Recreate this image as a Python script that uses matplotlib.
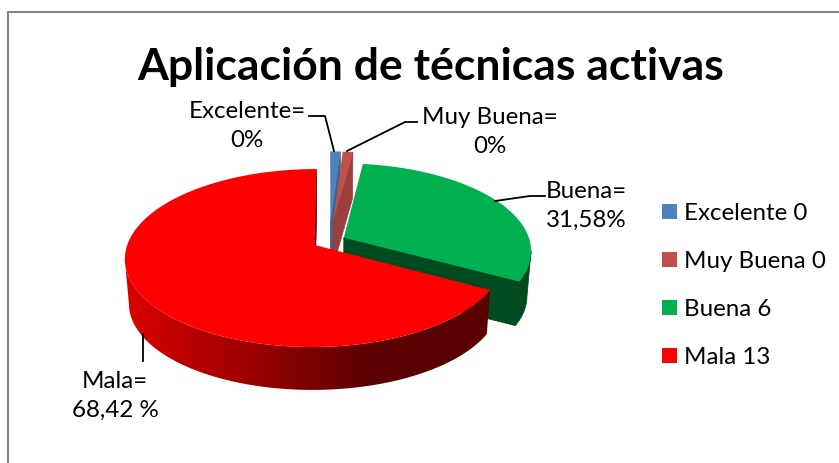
import numpy as np
import matplotlib
matplotlib.use('Agg')
import matplotlib.pyplot as plt
from matplotlib.patches import Polygon

plt.rcParams['font.family'] = ['Lato', 'DejaVu Sans']

title = 'Aplicación de técnicas activas'
categories = ['Excelente', 'Muy Buena', 'Buena', 'Mala']
counts = [0, 0, 6, 13]
# the two empty classes still show up as thin slices in the picture
drawn_values = [0.2, 0.2, 6, 13]
data_labels = ['Excelente=\n0%', 'Muy Buena=\n0%', 'Buena=\n31,58%', 'Mala=\n68,42 %']

top_colors = ['#4f81bd', '#c0504d', '#00b050', '#ff0000']
face_colors = ['#3c6492', '#9c3f3c', '#004a20', '#5c0000']
explode = [0.23, 0.23, 0.09, 0.09]

# fake 3D: projective map of the unit disc, pixels on the axes
cx, cy = 329, 242
a, b, k = 186, 85.9, 0.146
depth = 45
shrink = 0.98

def project(u, v, low=False):
    s = 1 + k * v
    x = a * u / s
    y = -b * v / s
    if low:
        x = x * shrink
        y = y * shrink + depth
    return cx + x, cy + y

fig = plt.figure(figsize=(8.39, 4.64), dpi=100)
ax = fig.add_axes([0, 0, 1, 1])

ax.plot([8, 8, 839], [464, 13, 13], color='#868686', lw=1.5, zorder=1)

# red wall shading, dark to the right
grad_x = np.linspace(0, 839, 840)
grad_t = np.clip((grad_x - 130) / (370 - 130), 0, 1)
grad = np.zeros((1, 840, 3))
grad[0, :, 0] = 0.85 - grad_t * (0.85 - 0.36)

fracs = np.array(drawn_values) / sum(drawn_values)
start = 90.0
z = 2
for i in range(len(categories)):
    sweep = fracs[i] * 360
    end = start - sweep
    mid = np.radians((start + end) / 2)
    ou, ov = explode[i] * np.cos(mid), explode[i] * np.sin(mid)
    th = np.radians(np.linspace(start, end, 200))
    u = ou + np.cos(th)
    v = ov + np.sin(th)

    # cut face at the end of the slice
    xt, yt = project(np.array([ou, u[-1]]), np.array([ov, v[-1]]))
    xb, yb = project(np.array([ou, u[-1]]), np.array([ov, v[-1]]), low=True)
    ax.fill([xt[0], xt[1], xb[1], xb[0]], [yt[0], yt[1], yb[1], yb[0]],
            color=face_colors[i], lw=0.5, zorder=z)

    # outer wall, only the part of the arc facing the viewer
    xt, yt = project(u, v)
    xb, yb = project(u, v, low=True)
    front = np.where(np.diff(xt) < 0)[0]
    if len(front) > 0:
        i0, i1 = front[0], front[-1] + 2
        wall_pts = np.c_[np.r_[xt[i0:i1], xb[i0:i1][::-1]], np.r_[yt[i0:i1], yb[i0:i1][::-1]]]
        if categories[i] == 'Mala':
            wall = Polygon(wall_pts, closed=True, fc='none', ec='none', transform=ax.transData)
            ax.add_patch(wall)
            im = ax.imshow(grad, extent=(0, 839, 464, 0), aspect='auto', zorder=z)
            im.set_clip_path(wall)
        else:
            ax.fill(wall_pts[:, 0], wall_pts[:, 1], color=face_colors[i], lw=0.5, zorder=z)

    # top
    x0, y0 = project(ou, ov)
    ax.fill(np.r_[x0, xt], np.r_[y0, yt], color=top_colors[i], lw=0, zorder=z + 0.5)
    start = end
    z += 1

# leader lines
leaders = [([309, 325, 334], [117, 117, 152]),
           ([417, 405, 347], [123, 123, 152]),
           ([495, 530, 545], [202, 197, 197]),
           ([143, 143], [335, 362])]
for lx, ly in leaders:
    ax.plot(lx, ly, color='black', lw=1.3, zorder=10)

ax.text(431, 67, title, fontsize=32, fontweight='bold', ha='center', va='center', color='black')

label_x = [247, 490, 586, 115]
label_y = [126, 132, 206, 396]
for i in range(len(data_labels)):
    ax.text(label_x[i], label_y[i], data_labels[i], fontsize=17.4, ha='center', va='center',
            linespacing=1.48, color='black', zorder=11)

legend_y = [212.5, 260.5, 308.5, 356.5]
for i in range(len(categories)):
    ax.add_patch(plt.Rectangle((662, legend_y[i] - 7.5), 15, 15, color=top_colors[i], lw=0))
    ax.text(684, legend_y[i] + 1, categories[i] + ' ' + str(counts[i]), fontsize=17.4,
            ha='left', va='center', color='black')

ax.set_xlim(0, 839)
ax.set_ylim(464, 0)
ax.axis('off')

fig.savefig('out.png', dpi=100)
